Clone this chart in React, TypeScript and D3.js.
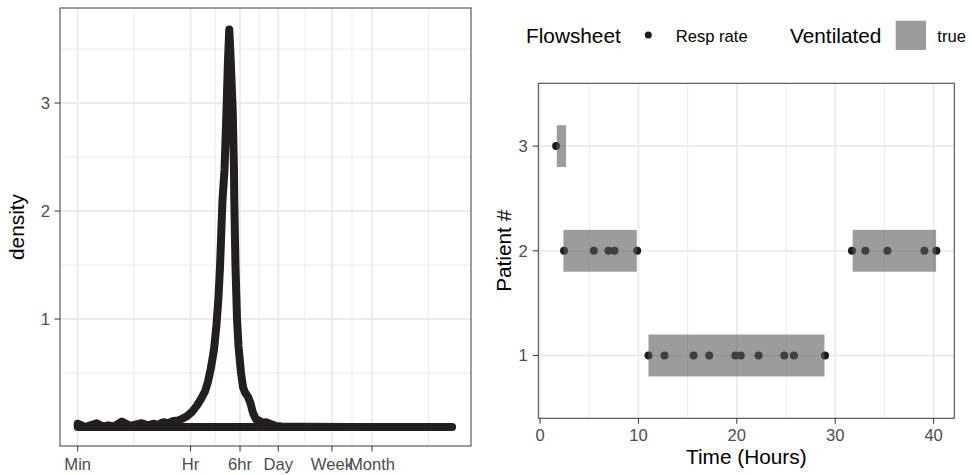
import React from "react";
import * as d3 from "d3";

// left panel: density of durations, x in log10(seconds)
const densityLogSec = [
  1.778, 1.893, 2.077, 2.176, 2.26, 2.35, 2.471, 2.602, 2.786, 2.885, 2.969, 3.043,
  3.126, 3.2, 3.283, 3.357, 3.42, 3.499, 3.578, 3.657, 3.72, 3.783, 3.83, 3.877,
  3.925, 3.964, 3.995, 4.019, 4.058, 4.09, 4.121, 4.145, 4.165, 4.184, 4.219, 4.239,
  4.244, 4.263, 4.287, 4.31, 4.35, 4.381, 4.413, 4.46, 4.499, 4.539, 4.586, 4.633,
  4.68, 4.743, 4.806, 4.902, 4.995, 5.279, 6.066, 6.854, 7.674,
];
const densityValue = [
  0.03, 0.0, 0.035, 0.005, 0.015, 0.005, 0.05, 0.01, 0.035, 0.015, 0.03, 0.02,
  0.045, 0.035, 0.055, 0.06, 0.075, 0.1, 0.14, 0.2, 0.26, 0.33, 0.42, 0.55,
  0.72, 0.95, 1.2, 1.48, 2.1, 2.38, 2.93, 3.4, 3.68, 3.45, 2.93, 2.38,
  2.1, 1.48, 1.0, 0.75, 0.5, 0.37, 0.32, 0.28, 0.22, 0.13, 0.07, 0.06,
  0.04, 0.045, 0.03, 0.01, 0.005, 0.002, 0.0, 0.0, 0.0,
];
const durationLabels = ["Min", "Hr", "6hr", "Day", "Week", "Month"];
const durationSeconds = [60, 3600, 21600, 86400, 604800, 2592000];
const densityTicks = [1, 2, 3];

// right panel: resp rate measurements and ventilation periods
const pointPatient = [3, 2, 2, 2, 2, 2, 2, 2, 2, 2, 2, 1, 1, 1, 1, 1, 1, 1, 1, 1, 1];
const pointHours = [
  1.63, 2.44, 5.46, 6.95, 7.56, 9.87, 31.7, 33.06, 35.3, 39.06, 40.28,
  11.02, 12.65, 15.6, 17.19, 19.84, 20.4, 22.21, 24.82, 25.8, 28.96,
];
const ventPatient = [3, 2, 2, 1];
const ventStart = [1.7, 2.37, 31.77, 11.02];
const ventEnd = [2.64, 9.83, 40.25, 28.9];
const patientTicks = [1, 2, 3];
const hourTicks = [0, 10, 20, 30, 40];

const FONT = "'Liberation Sans', Arial, sans-serif";
const GRID = "#ebebeb";
const TXT = "#4d4d4d";
const BORDER = "#4d4d4d";
const INK = "#231f20";

function DensityPanel() {
  const L = { l: 60, r: 471, t: 8, b: 446 };
  const x = d3.scaleLinear().domain([1.499, 7.972]).range([L.l, L.r]);
  const y = d3.scaleLinear().domain([-0.176, 3.88]).range([L.b, L.t]);

  const major = durationSeconds.map(Math.log10);
  const bd = major[1] - major[0];
  const ext = [major[0] - bd, ...major, major[major.length - 1] + bd];
  const minor = d3.pairs(ext).map(([a, b]) => (a + b) / 2)
    .filter(v => v > x.domain()[0] && v < x.domain()[1]);
  const yMinor = [0.5, 1.5, 2.5, 3.5];

  const pts: [number, number][] = densityLogSec.map((v, i) => [v, densityValue[i]]);
  const outline: [number, number][] = [
    ...pts,
    [densityLogSec[densityLogSec.length - 1], 0],
    [densityLogSec[0], 0],
  ];
  const line = d3.line<[number, number]>().x(d => x(d[0])).y(d => y(d[1]));

  return (
    <g>
      {minor.map(v => (
        <line key={"mx" + v} x1={x(v)} x2={x(v)} y1={L.t} y2={L.b} stroke={GRID} strokeWidth={1} />
      ))}
      {yMinor.map(v => (
        <line key={"my" + v} x1={L.l} x2={L.r} y1={y(v)} y2={y(v)} stroke={GRID} strokeWidth={1} />
      ))}
      {major.map(v => (
        <line key={"Mx" + v} x1={x(v)} x2={x(v)} y1={L.t} y2={L.b} stroke={GRID} strokeWidth={1.8} />
      ))}
      {densityTicks.map(v => (
        <line key={"My" + v} x1={L.l} x2={L.r} y1={y(v)} y2={y(v)} stroke={GRID} strokeWidth={1.8} />
      ))}
      <path
        d={line(outline) + "Z"}
        fill="none"
        stroke={INK}
        strokeWidth={8}
        strokeLinejoin="round"
        strokeLinecap="round"
      />
      <rect x={L.l} y={L.t} width={L.r - L.l} height={L.b - L.t} fill="none" stroke={BORDER} strokeWidth={1.1} />
      {densityTicks.map(v => (
        <g key={"yt" + v}>
          <line x1={L.l - 5.5} x2={L.l} y1={y(v)} y2={y(v)} stroke="#333" strokeWidth={1} />
          <text x={L.l - 10} y={y(v)} dy="0.36em" textAnchor="end" fontSize={16.6} fill={TXT}>{v}</text>
        </g>
      ))}
      {major.map((v, i) => (
        <g key={"xt" + i}>
          <line x1={x(v)} x2={x(v)} y1={L.b} y2={L.b + 5.5} stroke="#333" strokeWidth={1} />
          <text x={x(v)} y={470} textAnchor="middle" fontSize={16.6} fill={TXT}>{durationLabels[i]}</text>
        </g>
      ))}
      <text transform={`translate(23.5,${(L.t + L.b) / 2}) rotate(-90)`} textAnchor="middle" fontSize={20.8} fill="#000">density</text>
    </g>
  );
}

function TimelinePanel() {
  const L = { l: 538.3, r: 954.3, t: 83.3, b: 418.3 };
  const x = d3.scaleLinear().domain([-0.18, 42.1]).range([L.l, L.r]);
  const y = d3.scaleLinear().domain([0.4, 3.6]).range([L.b, L.t]);
  const minor = d3.range(5, 45, 10).filter(v => x(v) < L.r);

  return (
    <g>
      {minor.map(v => (
        <line key={"mx" + v} x1={x(v)} x2={x(v)} y1={L.t} y2={L.b} stroke={GRID} strokeWidth={1} />
      ))}
      {hourTicks.map(v => (
        <line key={"Mx" + v} x1={x(v)} x2={x(v)} y1={L.t} y2={L.b} stroke={GRID} strokeWidth={1.8} />
      ))}
      {patientTicks.map(v => (
        <line key={"My" + v} x1={L.l} x2={L.r} y1={y(v)} y2={y(v)} stroke={GRID} strokeWidth={1.8} />
      ))}
      {pointHours.map((h, i) => (
        <circle key={"p" + i} cx={x(h)} cy={y(pointPatient[i])} r={4} fill="#1a1a1a" />
      ))}
      {ventStart.map((s, i) => (
        <rect
          key={"v" + i}
          x={x(s)}
          y={y(ventPatient[i] + 0.2)}
          width={x(ventEnd[i]) - x(s)}
          height={y(ventPatient[i] - 0.2) - y(ventPatient[i] + 0.2)}
          fill="#5a5a5a"
          fillOpacity={0.6}
        />
      ))}
      <rect x={L.l} y={L.t} width={L.r - L.l} height={L.b - L.t} fill="none" stroke={BORDER} strokeWidth={1.1} />
      {patientTicks.map(v => (
        <g key={"yt" + v}>
          <line x1={L.l - 5.5} x2={L.l} y1={y(v)} y2={y(v)} stroke="#333" strokeWidth={1} />
          <text x={L.l - 10.5} y={y(v)} dy="0.36em" textAnchor="end" fontSize={16.6} fill={TXT}>{v}</text>
        </g>
      ))}
      {hourTicks.map(v => (
        <g key={"xt" + v}>
          <line x1={x(v)} x2={x(v)} y1={L.b} y2={L.b + 5.5} stroke="#333" strokeWidth={1} />
          <text x={x(v)} y={440.7} textAnchor="middle" fontSize={16.6} fill={TXT}>{v}</text>
        </g>
      ))}
      <text x={(L.l + L.r) / 2} y={464} textAnchor="middle" fontSize={20.8} fill="#000">Time (Hours)</text>
      <text transform={`translate(510.5,${(L.t + L.b) / 2}) rotate(-90)`} textAnchor="middle" fontSize={20.8} fill="#000">Patient #</text>

      {/* legends */}
      <text x={526} y={43.2} fontSize={20.8} fill="#000">Flowsheet</text>
      <circle cx={648.3} cy={35} r={3.5} fill="#1a1a1a" />
      <text x={675.7} y={41.6} fontSize={16.6} fill="#000">Resp rate</text>
      <text x={790} y={43.2} fontSize={20.8} fill="#000">Ventilated</text>
      <rect x={895.7} y={20.7} width={30.3} height={29.3} fill="#5a5a5a" fillOpacity={0.6} />
      <text x={937.3} y={42} fontSize={16.6} fill="#000">true</text>
    </g>
  );
}

export default function App() {
  return (
    <div>
      <style>{`body{margin:0}`}</style>
      <svg width={972} height={475} style={{ display: "block", fontFamily: FONT }}>
        <rect width={972} height={475} fill="#fff" />
        <DensityPanel />
        <TimelinePanel />
      </svg>
    </div>
  );
}
